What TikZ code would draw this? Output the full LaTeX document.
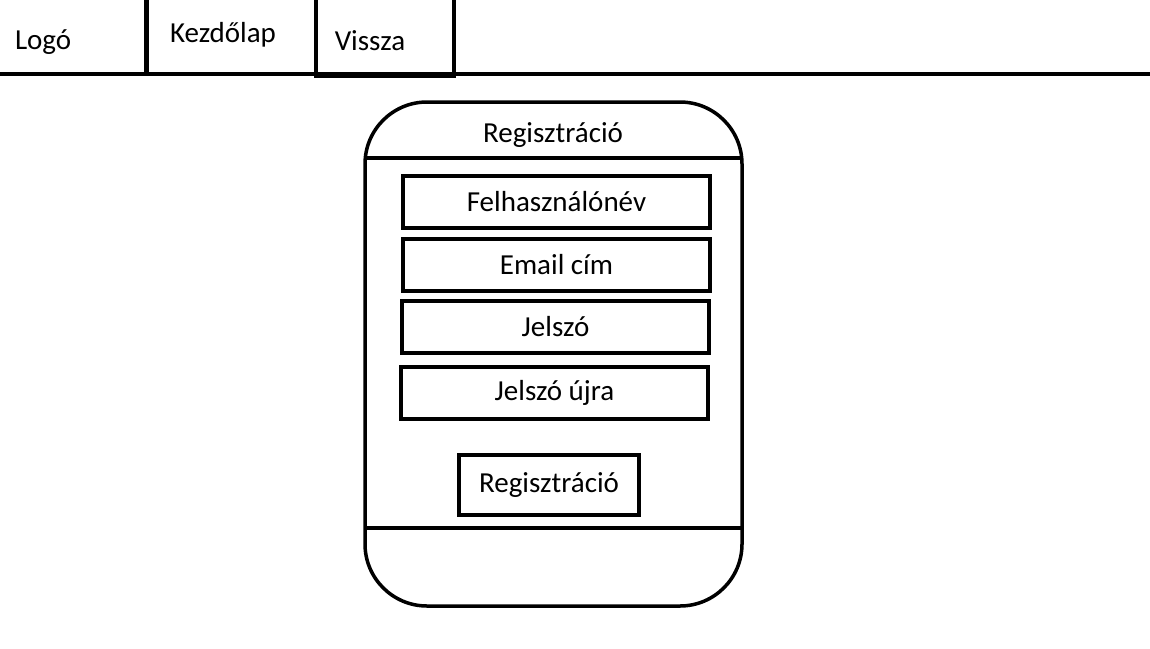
\documentclass[tikz,border=0pt]{standalone}
\usepackage{fontspec}
\setmainfont{Carlito}
\usepackage{tikz}

\begin{document}
\begin{tikzpicture}[x=1pt, y=-1pt, line width=4pt,
	label/.style={inner sep=0pt, font=\fontsize{29}{34}\selectfont},
	field/.style={draw, line width=4pt, inner sep=0pt, minimum width=307pt, minimum height=52pt, font=\fontsize{29}{34}\selectfont}]
	\useasboundingbox (0,0) rectangle (1150,648);

	% top bar
	\coordinate (barL) at (0,74);
	\coordinate (barR) at (1150,74);
	\draw (barL) -- (barR);
	\coordinate (sepT) at (146,0);
	\coordinate (sepB) at (146,74);
	\draw[line width=5pt] (sepT) -- (sepB);
	\draw (316,-3) rectangle (454,76);
	\node[label, anchor=west] (logo) at (13,42) {Logó};
	\node[label] (home) at (223,35) {Kezdőlap};
	\node[label] (back) at (370,41) {Vissza};

	% form frame
	\draw[line width=3.5pt, rounded corners=62pt] (365,102) rectangle (742,606);
	\draw[line width=3.5pt] (365,158) -- (742,158);
	\draw[line width=3.5pt] (365,528) -- (742,528);
	\node[label] (title) at (553,135) {Regisztráció};

	% fields
	\node[field] (user) at (556.5,202) {Felhasználónév};
	\node[field] (mail) at (556.5,265) {Email cím};
	\node[field] (pass) at (555.5,327) {Jelszó};
	\node[field] (again) at (554.5,392.5) {Jelszó újra};
	\node[field, minimum width=180pt, minimum height=60pt] (submit) at (549,485) {Regisztráció};
\end{tikzpicture}
\end{document}
